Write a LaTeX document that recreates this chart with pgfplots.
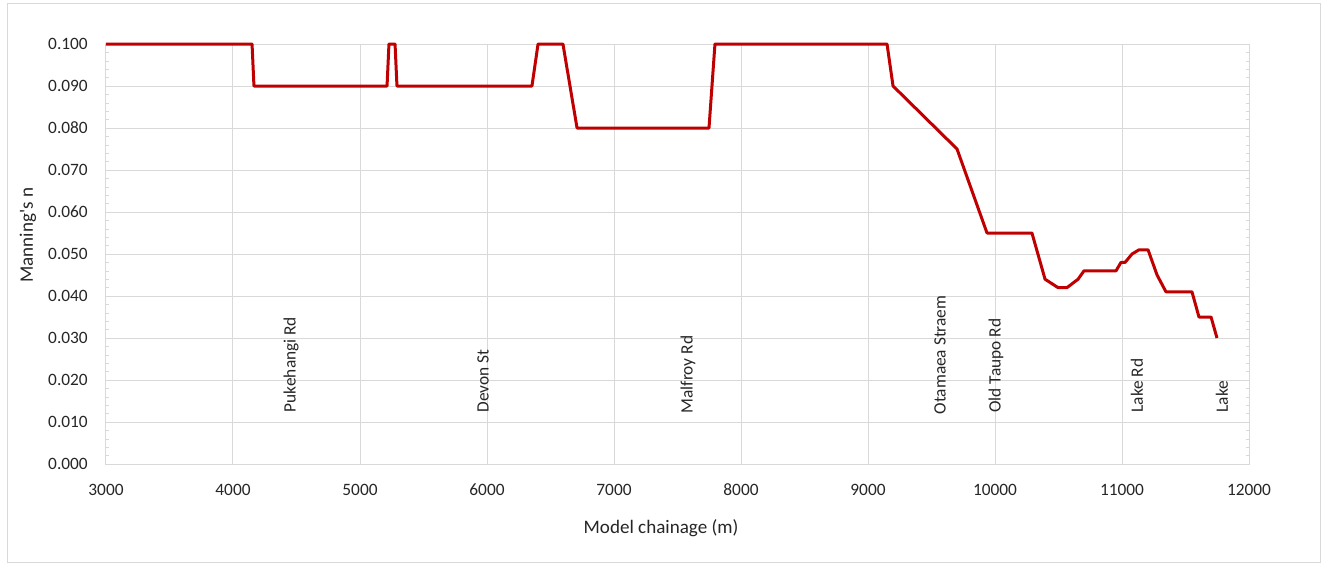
\documentclass[border=0pt]{standalone}
\usepackage{fontspec}
\setmainfont{Carlito}
\usepackage{pgfplots}
\pgfplotsset{compat=1.18}
\definecolor{linered}{HTML}{C00000}
\definecolor{gridgrey}{HTML}{D9D9D9}
\definecolor{txt}{HTML}{262626}
\begin{document}
\fontsize{13pt}{15pt}\selectfont
\begin{tikzpicture}[x=1pt,y=1pt]
\fill[white] (-79.5,-75.75) rectangle (912,348);
\draw[gridgrey, line width=0.75pt] (-73.5,-73.5) rectangle (910.5,345);
\useasboundingbox (-79.5,-75.75) rectangle (912,348);
\begin{axis}[
  at={(0,0)}, anchor=south west,
  scale only axis, width=857.25pt, height=315pt,
  xmin=3000, xmax=12000, ymin=0, ymax=0.1,
  xtick={3000,4000,...,12000},
  ytick={0,0.01,...,0.1},
  minor y tick num=4,
  grid=major,
  major grid style={gridgrey, line width=0.75pt},
  axis line style={gridgrey, line width=0.75pt},
  major tick length=0pt,
  minor tick length=2.5pt,
  tick align=inside,
  minor tick style={gridgrey},
  /pgf/number format/assume math mode=true,
  /pgf/number format/set thousands separator={},
  yticklabel style={/pgf/number format/fixed, /pgf/number format/fixed zerofill, /pgf/number format/precision=3},
  scaled y ticks=false,
  scaled x ticks=false,
  ticklabel style={font=\fontsize{13pt}{15pt}\selectfont, text=txt},
  xticklabel style={anchor=center, yshift=-19.5pt},
  yticklabel style={anchor=east, inner sep=0pt, xshift=-13.5pt},
  xlabel={Model chainage (m)},
  ylabel={Manning\textquotesingle s n},
  label style={font=\fontsize{14.3pt}{16pt}\selectfont, text=txt},
  x label style={at={(axis description cs:0.4856,0)}, anchor=center, yshift=-48pt},
  y label style={at={(axis description cs:-0.0682,0.545)}, anchor=center},
  clip=false,
]
\addplot[linered, line width=2.25pt, line join=round] coordinates {
(3000,0.100)
(4150,0.100)
(4165,0.090)
(5213,0.090)
(5228,0.100)
(5276,0.100)
(5291,0.090)
(6354,0.090)
(6402,0.100)
(6598,0.100)
(6709,0.080)
(7748,0.080)
(7795,0.100)
(9150,0.100)
(9197,0.090)
(9701,0.075)
(9937,0.055)
(10291,0.055)
(10394,0.044)
(10496,0.042)
(10567,0.042)
(10654,0.044)
(10701,0.046)
(10953,0.046)
(10992,0.048)
(11024,0.048)
(11079,0.050)
(11134,0.051)
(11205,0.051)
(11276,0.045)
(11346,0.041)
(11551,0.041)
(11606,0.035)
(11701,0.035)
(11748,0.030)
};
\begin{scope}[every node/.style={rotate=90, anchor=west, inner sep=0pt, text=txt, font=\fontsize{13pt}{15pt}\selectfont}]
\node at (axis cs:4457,0.0123) {Pukehangi Rd};
\node at (axis cs:5969,0.0122) {Devon St};
\node at (axis cs:7583,0.0120) {Malfroy Rd};
\node at (axis cs:9567,0.0118) {Otamaea Straem};
\node at (axis cs:10008,0.0122) {Old Taupo Rd};
\node at (axis cs:11118,0.0122) {Lake Rd};
\node at (axis cs:11787,0.0122) {Lake};
\end{scope}
\end{axis}
\end{tikzpicture}
\end{document}
